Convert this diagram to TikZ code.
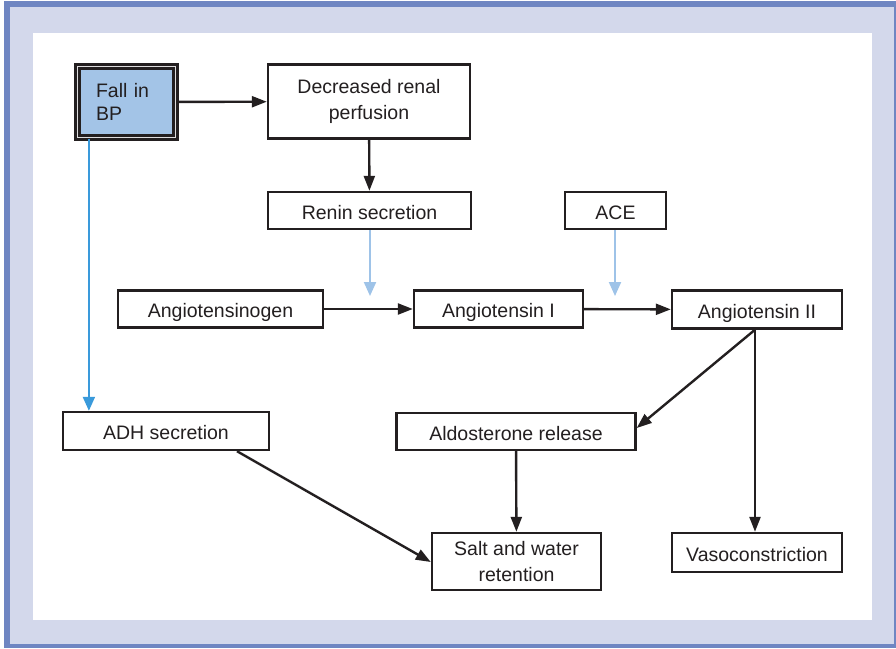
\documentclass[tikz,border=0pt]{standalone}
\usepackage{fontspec}
\setmainfont{Liberation Sans}
\usetikzlibrary{positioning,arrows.meta}
\definecolor{frameline}{HTML}{6F86C2}
\definecolor{framefill}{HTML}{D3D8EB}
\definecolor{bpfill}{HTML}{A3C4E7}
\definecolor{enzblue}{HTML}{9EC3E8}
\definecolor{adhblue}{HTML}{3A9ADB}
\definecolor{ink}{HTML}{231F20}
\begin{document}
\begin{tikzpicture}[x=1pt,y=-1pt,box/.style={draw=ink, line width=2.4pt, fill=white, text=ink, align=center, inner sep=0pt, font=\fontsize{19.5}{25.5}\selectfont},sbox/.style={box, text height=18pt, text depth=1pt},bpbox/.style={box, fill=bpfill, double=white!85!ink, double distance=1.8pt, line width=2.2pt, text width=61pt, align=left, font=\fontsize{19.5}{23.5}\selectfont},arr/.style={draw=ink, line width=2.4pt, -{Triangle[length=15pt,width=11pt]}},enzarr/.style={draw=enzblue, line width=2pt, -{Triangle[length=14pt,width=12pt]}},adharr/.style={draw=adhblue, line width=2pt, -{Triangle[length=14pt,width=12pt]}}]
\useasboundingbox (0,0) rectangle (896,648);
% frame
\fill[frameline] (4,1) rectangle (896,648);
\fill[framefill] (10,7) rectangle (894,644);
\fill[white] (33,33) rectangle (872,620);
% boxes
\node[bpbox, minimum width=98pt, minimum height=71pt] (bp) at (126.5,102) {Fall in\\BP};
\node[box, minimum width=202pt, minimum height=74pt] (perf) at (369,101.5) {Decreased renal\\perfusion};
\node[sbox, minimum width=203pt, minimum height=37pt] (renin) at (369.5,210.5) {Renin secretion};
\node[sbox, minimum width=101pt, minimum height=37pt] (ace) at (615.5,210.5) {ACE};
\node[sbox, minimum width=205pt, minimum height=37pt] (agen) at (220.5,309) {Angiotensinogen};
\node[sbox, minimum width=169pt, minimum height=37pt] (ang1) at (498.5,309) {Angiotensin I};
\node[sbox, minimum width=170pt, minimum height=38pt] (ang2) at (757,309.5) {Angiotensin II};
\node[sbox, minimum width=206pt, minimum height=38pt] (adh) at (166,431) {ADH secretion};
\node[sbox, minimum width=239pt, minimum height=37pt] (aldo) at (516,431.5) {Aldosterone release};
\node[box, minimum width=169pt, minimum height=57pt] (salt) at (516.5,561.5) {Salt and water\\retention};
\node[sbox, minimum width=170pt, minimum height=39pt] (vaso) at (757,552.5) {Vasoconstriction};
% free ends of the enzyme arrows
\coordinate (reninend) at (370,296);
\coordinate (aceend) at (615,296);
% connectors
\draw[arr] (bp) -- (perf);
\draw[arr] (perf) -- (renin);
\draw[enzarr] (renin.south -| reninend) -- (reninend);
\draw[enzarr] (ace.south -| aceend) -- (aceend);
\draw[arr] (agen) -- (ang1);
\draw[arr] (ang1) -- (ang2);
\draw[adharr] ([xshift=12.5pt]bp.south west) -- ([xshift=12.5pt]bp.south west |- adh.north);
\draw[arr] ([xshift=71pt]adh.south) -- ([yshift=-0.5pt]salt.west);
\draw[arr] (aldo) -- (salt);
\draw[arr] ([xshift=-2pt]ang2.south) -- ([yshift=3.5pt]aldo.east);
\draw[arr] ([xshift=-2pt]ang2.south) -- ([xshift=-2pt]vaso.north);
\end{tikzpicture}
\end{document}
